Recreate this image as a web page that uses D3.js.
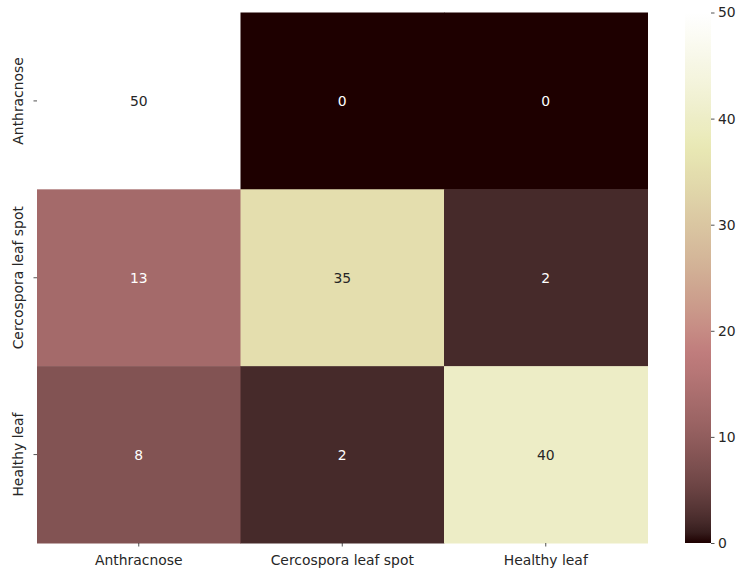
<!DOCTYPE html>
<html>
<head>
<meta charset="utf-8">
<script src="https://cdn.jsdelivr.net/npm/d3@7"></script>
<style>
  html, body { margin: 0; padding: 0; background: #fff; }
  svg { display: block; font-family: "DejaVu Sans", sans-serif; }
</style>
</head>
<body>
<svg id="chart" width="740" height="568"></svg>
<script>
// ---- data ----
const rowLabels = ["Anthracnose", "Cercospora leaf spot", "Healthy leaf"];
const colLabels = ["Anthracnose", "Cercospora leaf spot", "Healthy leaf"];
const matrix = [
  [50, 0, 0],
  [13, 35, 2],
  [8, 2, 40]
];
const colorbarTicks = [0, 10, 20, 30, 40, 50];
const vmin = 0, vmax = 50;

// ---- matplotlib "pink" colormap: sqrt((2*gray + hot)/3) ----
function hot(t) {
  const r = t < 0.365079 ? 0.0416 + (1 - 0.0416) * t / 0.365079 : 1;
  const g = t < 0.365079 ? 0 : (t < 0.746032 ? (t - 0.365079) / (0.746032 - 0.365079) : 1);
  const b = t < 0.746032 ? 0 : (t - 0.746032) / (1 - 0.746032);
  return [r, g, b];
}
function pink(t) {
  t = Math.max(0, Math.min(1, t));
  const h = hot(t);
  const c = h.map(v => Math.sqrt((2 * t + v) / 3));
  return d3.rgb(c[0] * 255, c[1] * 255, c[2] * 255);
}
function luminance(c) {
  const f = v => { v /= 255; return v <= 0.03928 ? v / 12.92 : Math.pow((v + 0.055) / 1.055, 2.4); };
  return 0.2126 * f(c.r) + 0.7152 * f(c.g) + 0.0722 * f(c.b);
}

const svg = d3.select("#chart");
const plot = { left: 37, right: 647.5, top: 12.5, bottom: 543 };
const fontSize = 13.9;
const textColor = "#262626";

const x = d3.scaleBand().domain(colLabels.map((d, i) => i)).range([plot.left, plot.right]).padding(0);
const y = d3.scaleBand().domain(rowLabels.map((d, i) => i)).range([plot.top, plot.bottom]).padding(0);
const color = d3.scaleSequential(pink).domain([vmin, vmax]);

const cells = [];
matrix.forEach((row, i) => row.forEach((v, j) => cells.push({ i, j, v })));

svg.append("g").selectAll("rect").data(cells).join("rect")
  .attr("x", d => x(d.j))
  .attr("y", d => y(d.i))
  .attr("width", x.bandwidth() + 0.5)
  .attr("height", y.bandwidth() + 0.5)
  .attr("fill", d => color(d.v));

svg.append("g").selectAll("text").data(cells).join("text")
  .attr("x", d => x(d.j) + x.bandwidth() / 2)
  .attr("y", d => y(d.i) + y.bandwidth() / 2)
  .attr("text-anchor", "middle")
  .attr("dominant-baseline", "central")
  .attr("font-size", fontSize)
  .attr("fill", d => luminance(d3.rgb(color(d.v))) > 0.408 ? textColor : "#ffffff")
  .text(d => d.v);

// x axis
const xAxis = svg.append("g").attr("transform", `translate(0,${plot.bottom})`)
  .call(d3.axisBottom(x).tickFormat(i => colLabels[i]).tickSize(3.5).tickPadding(5));
xAxis.select(".domain").remove();
xAxis.selectAll("line").attr("stroke", textColor).attr("stroke-width", 0.8);
xAxis.selectAll("text").attr("font-size", fontSize).attr("fill", textColor)
  .attr("font-family", "DejaVu Sans").attr("dy", "0.95em");

// y axis
const yAxis = svg.append("g").attr("transform", `translate(${plot.left},0)`)
  .call(d3.axisLeft(y).tickFormat(i => rowLabels[i]).tickSize(3.5).tickPadding(0));
yAxis.select(".domain").remove();
yAxis.selectAll("line").attr("stroke", textColor).attr("stroke-width", 0.8);
yAxis.selectAll("text")
  .attr("font-size", fontSize).attr("fill", textColor).attr("font-family", "DejaVu Sans")
  .attr("x", null).attr("dy", null)
  .attr("text-anchor", "middle")
  .attr("transform", "translate(-14,0) rotate(-90)")
  .attr("dominant-baseline", "auto")
  .attr("y", 0);

// colorbar
const cb = { x: 685, w: 26, top: 12.5, bottom: 543 };
const defs = svg.append("defs");
const grad = defs.append("linearGradient").attr("id", "cbgrad")
  .attr("x1", 0).attr("y1", 1).attr("x2", 0).attr("y2", 0);
d3.range(0, 1.0001, 0.02).forEach(t => {
  grad.append("stop").attr("offset", t).attr("stop-color", pink(t));
});
svg.append("rect").attr("x", cb.x).attr("y", cb.top)
  .attr("width", cb.w).attr("height", cb.bottom - cb.top)
  .attr("fill", "url(#cbgrad)");
const cy = d3.scaleLinear().domain([vmin, vmax]).range([cb.bottom, cb.top]);
const cbAxis = svg.append("g").attr("transform", `translate(${cb.x + cb.w},0)`)
  .call(d3.axisRight(cy).tickValues(colorbarTicks).tickSize(3.5).tickPadding(3.5));
cbAxis.select(".domain").remove();
cbAxis.selectAll("line").attr("stroke", textColor).attr("stroke-width", 0.8);
cbAxis.selectAll("text").attr("font-size", fontSize).attr("fill", textColor).attr("font-family", "DejaVu Sans");
</script>
</body>
</html>
